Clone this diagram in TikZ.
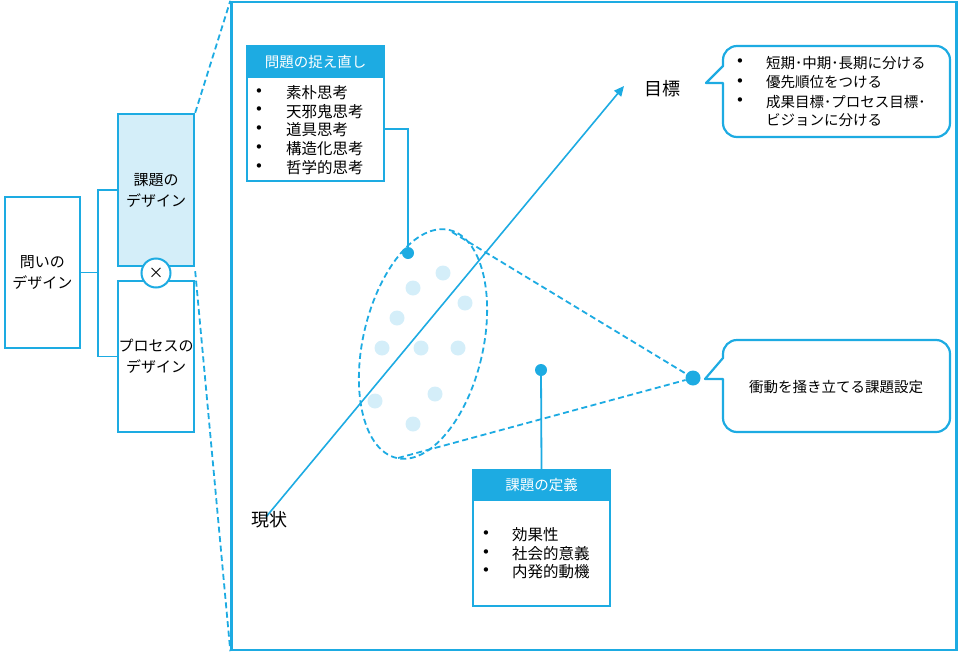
\documentclass[tikz,border=0pt]{standalone}
\usepackage{fontspec}
\setmainfont{Noto Sans CJK JP}
\newfontfamily\bulfont{DejaVu Sans}
\usetikzlibrary{arrows.meta,calc}
\definecolor{mblue}{RGB}{29,171,226}
\definecolor{lblue}{RGB}{212,238,249}
\begin{document}
\begin{tikzpicture}[x=1pt,y=-1pt,
  box/.style={draw=mblue,line width=2.4pt},
  conn/.style={draw=mblue,line width=1.8pt},
  dline/.style={draw=mblue,line width=1.8pt,dash pattern=on 6pt off 3.5pt},
  lab/.style={font=\fontsize{15}{21}\selectfont,align=center,inner sep=0pt},
  hdr/.style={box,fill=mblue,text=white,font=\fontsize{14.5}{17}\selectfont,inner sep=0pt},
  itm/.style={font=\fontsize{15.5}{18}\selectfont,inner sep=0pt,anchor=west},
  citm/.style={font=\fontsize{14.5}{17}\selectfont,inner sep=0pt,anchor=west},
  bul/.style={font=\bulfont\fontsize{15}{17}\selectfont,inner sep=0pt},
  dot/.style={circle,fill=mblue,inner sep=0pt,minimum size=12pt},
  ldot/.style={circle,fill=lblue,inner sep=0pt,minimum size=15pt},
  big/.style={font=\fontsize{18}{20}\selectfont,inner sep=0pt}
]
\useasboundingbox (0,0) rectangle (958,653);

% left hierarchy
\node[box,minimum width=75pt,minimum height=151pt,lab] (q) at (42.5,272.5) {問いの\\デザイン};
\node[box,fill=lblue,minimum width=76pt,minimum height=152pt,lab] (kd) at (156,190) {課題の\\デザイン};
\node[box,minimum width=76pt,minimum height=151pt,lab] (pd) at (156,356.5) {プロセスの\\デザイン};
\node[circle,draw=mblue,line width=2pt,fill=white,minimum size=29pt,inner sep=0pt,font=\fontsize{15}{17}\selectfont] (x) at (156,273) {×};
\coordinate (bx) at (99,272.5);
\draw[conn] (q.east) -- (bx);
\draw[conn] (kd.west) -- ++(-19,0) |- (pd.west);

% big panel
\node[box,minimum width=725pt,minimum height=648pt] (panel) at (594,326) {};
\draw[dline] (kd.north east) -- (panel.north west);
\draw[dline] ($(kd.south east)+(0,4)$) -- (panel.south west);

% ellipse and dots
\coordinate (ec) at (423,344);
\foreach \p [count=\i] in {(443,273),(413,288),(465,303),(397,318),(382,348),(421,348),(458,348),(375,401),(435,394),(413,424)}
  \node[ldot] (ld\i) at \p {};
\draw[dline,rotate around={-13:(ec)}] (ec) ellipse [x radius=60, y radius=117];
\node[dot,minimum size=15pt] (apex) at (693,378) {};
\coordinate (t1) at (452,232);
\coordinate (t2) at (398,458);
\draw[dline] (t1) -- (apex);
\draw[dline] (t2) -- (apex);

% main arrow
\coordinate (cur) at (266,517);
\coordinate (goal) at (624,86);
\draw[conn,line width=1.6pt,-{Triangle[length=10pt,width=9pt]}] (cur) -- (goal);
\node[big] (genjo) at (269.5,520) {現状};
\node[big] (mokuhyo) at (662,89) {目標};

% problem reframing box
\node[box,minimum width=137pt,minimum height=104pt] (pbody) at (315.5,129) {};
\node[hdr,minimum width=137pt,minimum height=31pt] (phdr) at (315.5,61.5) {問題の捉え直し};
\foreach \t [count=\i] in {素朴思考,天邪鬼思考,道具思考,構造化思考,哲学的思考}{
  \node[bul] (pb\i) at (259,73.5+18.8*\i) {•};
  \node[itm] (pt\i) at (286,73.5+18.8*\i) {\t};
}
\node[dot] (d1) at (408,253) {};
\draw[conn] (pbody.east) -| (d1);

% definition box
\node[box,minimum width=137pt,minimum height=106pt] (dbody) at (541.5,553) {};
\node[hdr,minimum width=137pt,minimum height=30pt] (dhdr) at (541.5,485) {課題の定義};
\foreach \t [count=\i] in {効果性,社会的意義,内発的動機}{
  \node[bul] (db\i) at (486,516+18.6*\i) {•};
  \node[itm] (dt\i) at (512,516+18.6*\i) {\t};
}
\node[dot] (d2) at (541,370) {};
\draw[conn] (dhdr.north) -- (d2);

% callout 1
\draw[box,line width=2.2pt,line join=round] (723,83) -- (706,83) -- (723,66) [rounded corners=14pt] -- (723,46) -- (950,46) -- (950,137) -- (723,137) [sharp corners] -- cycle;
\node[bul] (cb1) at (740,63) {•};
\node[citm] (ct1) at (766,63) {短期･中期･長期に分ける};
\node[bul] (cb2) at (740,82.5) {•};
\node[citm] (ct2) at (766,82.5) {優先順位をつける};
\node[bul] (cb3) at (740,102) {•};
\node[citm] (ct3) at (766,102) {成果目標･プロセス目標･};
\node[citm] (ct4) at (766,120.5) {ビジョンに分ける};

% callout 2
\draw[box,line width=2.2pt,line join=round] (723,379) -- (705,379) -- (723,358) [rounded corners=14pt] -- (723,340) -- (950,340) -- (950,432) -- (723,432) [sharp corners] -- cycle;
\node[font=\fontsize{14.5}{17}\selectfont,inner sep=0pt] (c2t) at (836,387) {衝動を掻き立てる課題設定};
\end{tikzpicture}
\end{document}
